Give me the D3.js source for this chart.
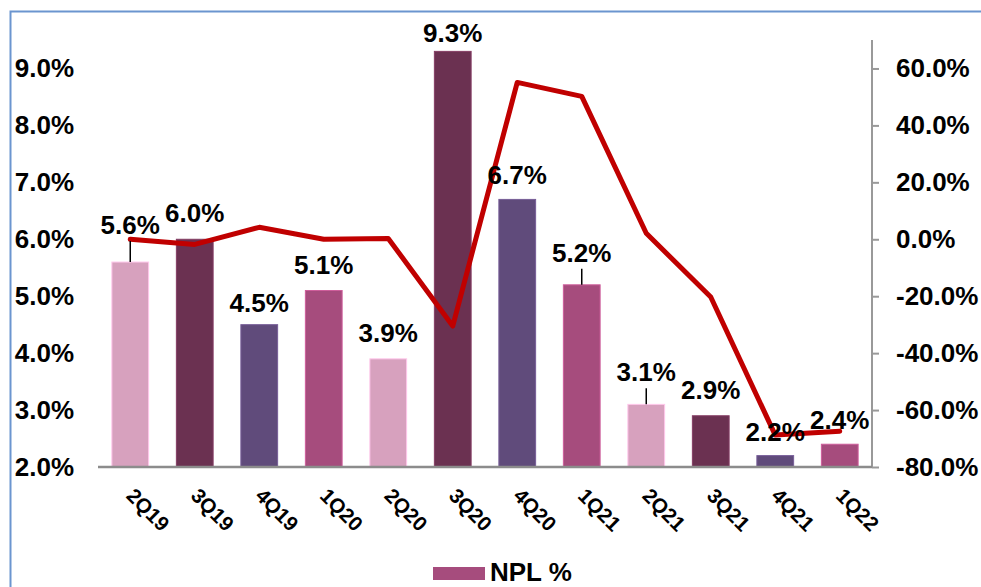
<!DOCTYPE html>
<html>
<head>
<meta charset="utf-8">
<script src="https://cdn.jsdelivr.net/npm/d3@7"></script>
<style>
  body { margin: 0; background: #fff; }
  svg { display: block; font-family: "Liberation Sans", Arial, sans-serif; font-weight: bold; }
</style>
</head>
<body>
<div id="chart"></div>
<script>
// data
const quarters = ["2Q19", "3Q19", "4Q19", "1Q20", "2Q20", "3Q20", "4Q20", "1Q21", "2Q21", "3Q21", "4Q21", "1Q22"];
const nplValues = [5.6, 6.0, 4.5, 5.1, 3.9, 9.3, 6.7, 5.2, 3.1, 2.9, 2.2, 2.4];
const growthValues = [0.0, -1.8, 4.2, 0.0, 0.3, -30.5, 55.1, 50.2, 2.1, -20.3, -68.8, -67.4];
const leftTicks = [2, 3, 4, 5, 6, 7, 8, 9];
const rightTicks = [-80, -60, -40, -20, 0, 20, 40, 60];

const width = 981;
const height = 587;

// bar colours cycle through four shades
const barColors = ["#d7a1be", "#6b3151", "#604b7b", "#a64c7d"];
// how far each value label sits above its bar (Excel had them dragged around)
const labelLift = [37, 26, 22, 26, 26, 18, 25, 32, 32, 26, 24, 24];
const hasLeader = [true, false, false, false, false, false, false, true, true, false, false, false];

const svg = d3.select("#chart")
    .append("svg")
    .attr("width", width)
    .attr("height", height);

// blue frame round the chart area (only top and left show)
svg.append("path")
    .attr("d", "M10.5,587 L10.5,11.5 L981,11.5")
    .attr("fill", "none")
    .attr("stroke", "#6b95cf")
    .attr("stroke-width", 2);

const x = d3.scaleBand()
    .domain(quarters)
    .range([98, 872])
    .paddingInner(0.43)
    .paddingOuter(0.215);

const yLeft = d3.scaleLinear()
    .domain([2, 9.5])
    .range([467, 40]);

const yRight = d3.scaleLinear()
    .domain([-80, 70])
    .range([467, 40]);

const pct = v => v.toFixed(1) + "%";

// bars
svg.append("g")
    .selectAll("rect")
    .data(nplValues)
    .join("rect")
    .attr("x", (d, i) => x(quarters[i]))
    .attr("y", d => yLeft(d))
    .attr("width", x.bandwidth())
    .attr("height", d => yLeft(2) - yLeft(d))
    .attr("fill", (d, i) => barColors[i % 4])
    .attr("stroke", (d, i) => d3.rgb(barColors[i % 4]).brighter(0.6))
    .attr("stroke-width", 1);

// left axis, labels only
const leftAxis = svg.append("g")
    .attr("transform", "translate(74,0)")
    .call(d3.axisLeft(yLeft).tickValues(leftTicks).tickFormat(pct).tickSize(0).tickPadding(0));
leftAxis.select(".domain").remove();
leftAxis.selectAll("text")
    .attr("font-size", 26)
    .attr("font-weight", "bold")
    .attr("fill", "#000")
    .attr("font-family", "Liberation Sans, Arial, sans-serif");

// right axis
const rightAxis = svg.append("g")
    .attr("transform", "translate(872,0)")
    .call(d3.axisRight(yRight).tickValues(rightTicks).tickFormat(pct).tickSize(7).tickPadding(17));
rightAxis.select(".domain")
    .attr("d", "M0,40 L0,467")
    .attr("stroke", "#999")
    .attr("stroke-width", 2);
rightAxis.selectAll("line").attr("stroke", "#999").attr("stroke-width", 2);
rightAxis.selectAll("text")
    .attr("font-size", 26)
    .attr("font-weight", "bold")
    .attr("fill", "#000")
    .attr("font-family", "Liberation Sans, Arial, sans-serif");

// bottom axis with slanted quarter labels
const bottomAxis = svg.append("g")
    .attr("transform", "translate(0,467)")
    .call(d3.axisBottom(x).tickSize(0));
bottomAxis.select(".domain")
    .attr("d", "M98,0 L872,0")
    .attr("stroke", "#8c8c8c")
    .attr("stroke-width", 2.5);
bottomAxis.selectAll("text")
    .attr("x", 0)
    .attr("y", 0)
    .attr("dy", 0)
    .attr("transform", "translate(-5,30) rotate(45)")
    .attr("text-anchor", "start")
    .attr("font-size", 20.5)
    .attr("font-weight", "bold")
    .attr("fill", "#000")
    .attr("font-family", "Liberation Sans, Arial, sans-serif");

// growth line on the right axis
const line = d3.line()
    .x((d, i) => x(quarters[i]) + x.bandwidth() / 2)
    .y(d => yRight(d));

svg.append("path")
    .datum(growthValues)
    .attr("d", line)
    .attr("fill", "none")
    .attr("stroke", "#c00000")
    .attr("stroke-width", 5)
    .attr("stroke-linejoin", "round")
    .attr("stroke-linecap", "round");

// leader lines for dragged labels
svg.append("g")
    .selectAll("line")
    .data(nplValues.map((d, i) => ({ d, i })).filter(o => hasLeader[o.i]))
    .join("line")
    .attr("x1", o => x(quarters[o.i]) + x.bandwidth() / 2)
    .attr("x2", o => x(quarters[o.i]) + x.bandwidth() / 2)
    .attr("y1", o => yLeft(o.d))
    .attr("y2", o => yLeft(o.d) - labelLift[o.i] + 16)
    .attr("stroke", "#000")
    .attr("stroke-width", 1.5);

// value labels
svg.append("g")
    .selectAll("text")
    .data(nplValues)
    .join("text")
    .attr("x", (d, i) => x(quarters[i]) + x.bandwidth() / 2)
    .attr("y", (d, i) => yLeft(d) - labelLift[i])
    .attr("dy", "0.35em")
    .attr("text-anchor", "middle")
    .attr("font-size", 26)
    .attr("fill", "#000")
    .text(d => pct(d));

// legend
const legend = svg.append("g").attr("transform", "translate(433,567)");
legend.append("rect")
    .attr("width", 52)
    .attr("height", 13)
    .attr("fill", barColors[3]);
legend.append("text")
    .attr("x", 57)
    .attr("y", 14)
    .attr("font-size", 26)
    .attr("fill", "#000")
    .text("NPL %");
</script>
</body>
</html>
